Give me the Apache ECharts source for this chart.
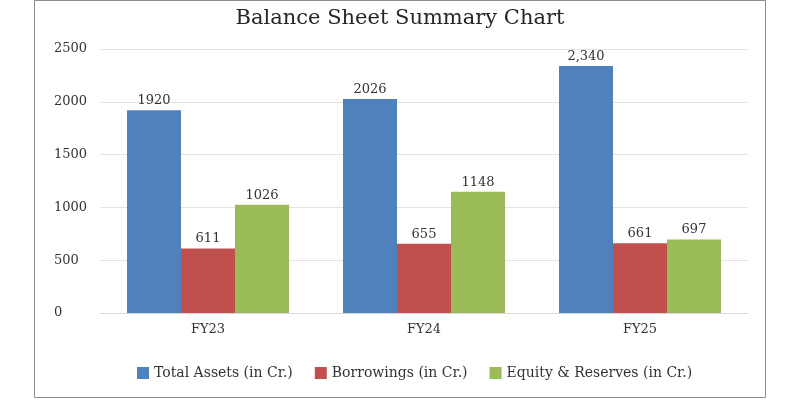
<!DOCTYPE html>
<html>
<head>
<meta charset="utf-8">
<script src="https://cdn.jsdelivr.net/npm/echarts@6/dist/echarts.min.js"></script>
<style>
  html, body { margin: 0; padding: 0; background: #fff; }
  #main { width: 800px; height: 400px; }
</style>
</head>
<body>
<div id="main"></div>
<script>
var years = ['FY23', 'FY24', 'FY25'];
var totalAssets = [1920, 2026, 2340];
var borrowings = [611, 655, 661];
var equityReserves = [1026, 1148, 697];
var assetLabels = ['1920', '2026', '2,340'];

var serif = 'DejaVu Serif';
var txt = '#333333';

function barLabel(texts) {
    return {
        show: true,
        position: 'top',
        distance: 3,
        color: txt,
        fontFamily: serif,
        fontSize: 13,
        formatter: function (p) {
            return texts ? texts[p.dataIndex] : String(p.value);
        }
    };
}

var option = {
    animation: false,
    backgroundColor: '#fff',
    title: {
        text: 'Balance Sheet Summary Chart',
        left: 'center',
        top: 3,
        textStyle: { fontFamily: serif, fontWeight: 'normal', fontSize: 21, color: '#262626' }
    },
    graphic: [{
        type: 'rect',
        shape: { x: 34.5, y: 0.5, width: 731, height: 397 },
        style: { fill: null, stroke: '#8c8c8c', lineWidth: 1 },
        silent: true
    }],
    legend: {
        bottom: 15,
        left: 132,
        itemWidth: 12,
        itemHeight: 12,
        itemGap: 22,
        icon: 'rect',
        textStyle: { fontFamily: serif, fontSize: 14, color: txt },
        data: ['Total Assets (in Cr.)', 'Borrowings (in Cr.)', 'Equity & Reserves (in Cr.)']
    },
    grid: { left: 100, right: 52, top: 49, bottom: 87 },
    xAxis: {
        type: 'category',
        data: years,
        axisLine: { lineStyle: { color: '#d9d9d9' } },
        axisTick: { show: false },
        axisLabel: { fontFamily: serif, fontSize: 13, color: txt, margin: 10 }
    },
    yAxis: {
        type: 'value',
        min: 0,
        max: 2500,
        interval: 500,
        axisLine: { show: false },
        axisTick: { show: false },
        splitLine: { lineStyle: { color: '#e3e3e3' } },
        axisLabel: {
            fontFamily: serif, fontSize: 13, color: txt, margin: 46, align: 'left',
            formatter: function (v) { return String(v); }
        }
    },
    series: [
        {
            name: 'Total Assets (in Cr.)',
            type: 'bar',
            data: totalAssets,
            barGap: '0%',
            barCategoryGap: '25%',
            itemStyle: { color: '#4f81bd' },
            label: barLabel(assetLabels)
        },
        {
            name: 'Borrowings (in Cr.)',
            type: 'bar',
            data: borrowings,
            itemStyle: { color: '#c0504d' },
            label: barLabel()
        },
        {
            name: 'Equity & Reserves (in Cr.)',
            type: 'bar',
            data: equityReserves,
            itemStyle: { color: '#9bbb59' },
            label: barLabel()
        }
    ]
};

var myChart = echarts.init(document.getElementById('main'));
myChart.setOption(option);
</script>
</body>
</html>
